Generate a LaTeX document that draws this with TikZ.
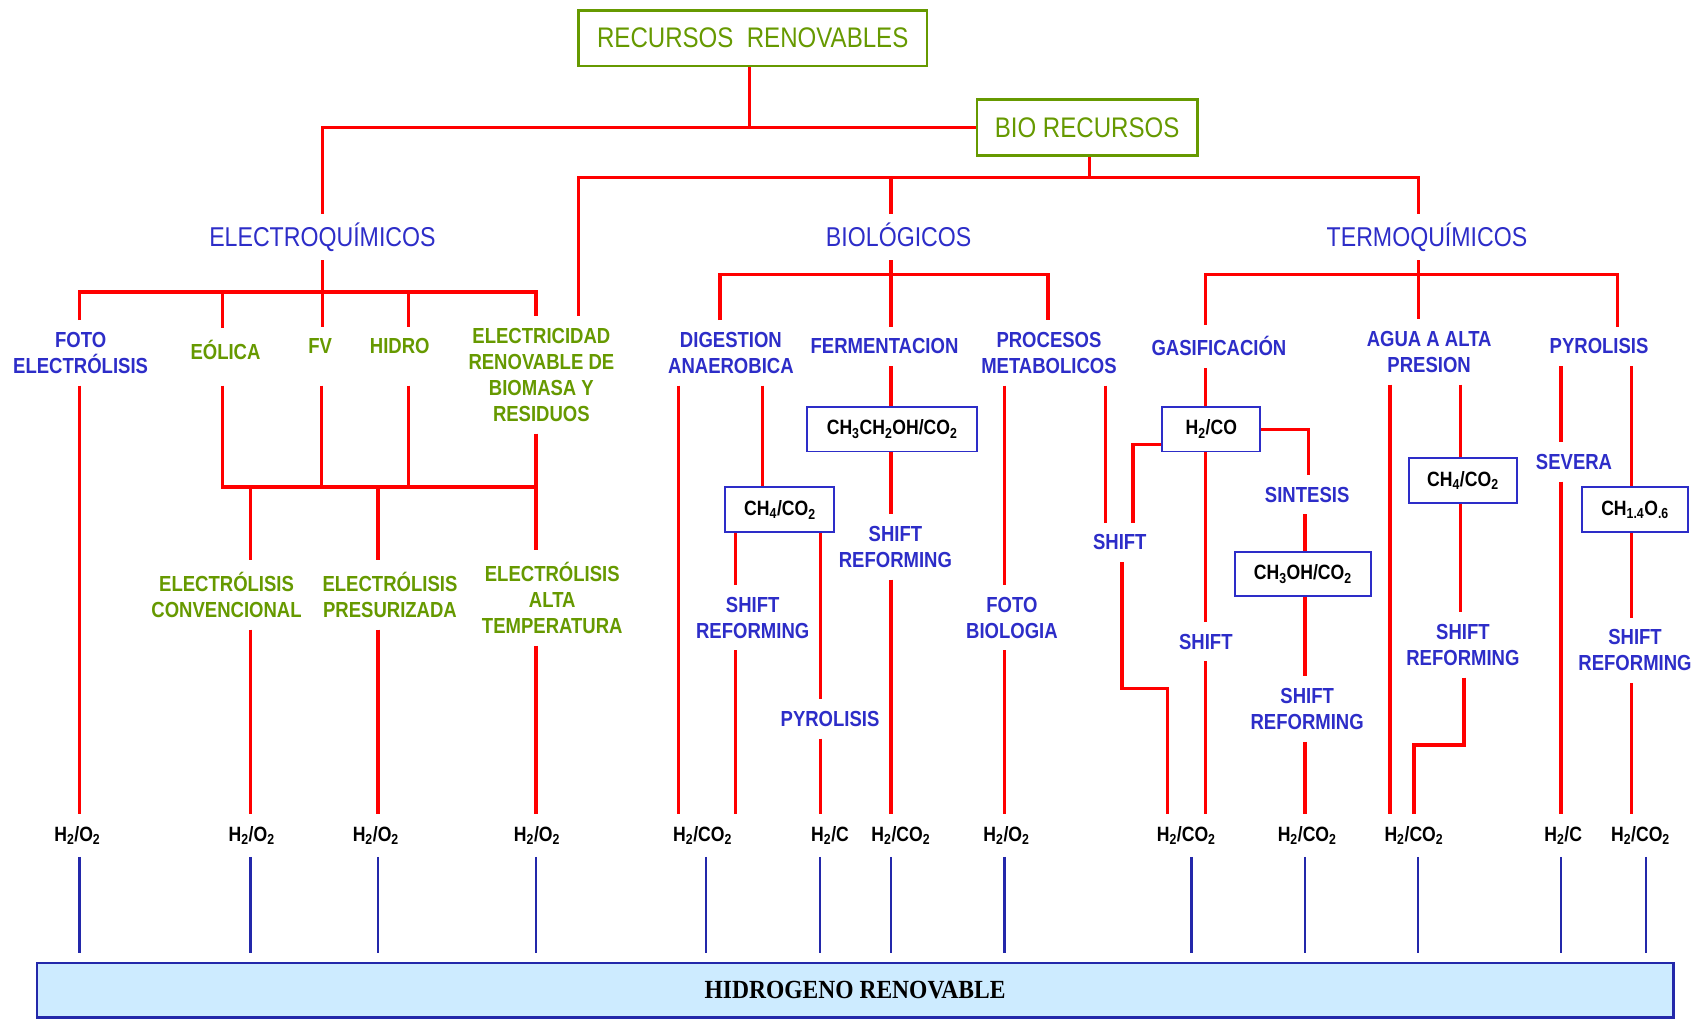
\documentclass[tikz,border=0pt]{standalone}
\usepackage{fontspec}
\setmainfont{Liberation Sans}[FakeStretch=0.85]
\newfontfamily\serifbar{Liberation Serif}[FakeStretch=0.9]
\definecolor{rojo}{RGB}{255,0,0}
\definecolor{azul}{RGB}{45,45,200}
\definecolor{verde}{RGB}{102,153,0}
\definecolor{marino}{RGB}{35,40,170}
\definecolor{celeste}{RGB}{205,235,255}
\newcommand{\prodHO}{H\textsubscript{2}/O\textsubscript{2}}
\newcommand{\prodHCO}{H\textsubscript{2}/CO\textsubscript{2}}
\newcommand{\prodHC}{H\textsubscript{2}/C}
\begin{document}
\begin{tikzpicture}[x=1pt, y=-1pt,
  raiz/.style={draw=verde, line width=2.5pt, text=verde, font=\fontsize{26}{30}\selectfont, minimum height=51pt},
  rama/.style={text=azul, font=\fontsize{25}{30}\selectfont, anchor=base, text height=22pt, text depth=5pt, inner sep=0pt, outer sep=8pt},
  etiq/.style={text=azul, font=\bfseries\fontsize{20}{24}\selectfont, align=center, inner sep=0pt, outer sep=11pt},
  etiqv/.style={etiq, text=verde},
  caja/.style={draw=azul, line width=1.8pt, font=\bfseries\fontsize{19}{22}\selectfont, minimum height=41pt, inner sep=0pt},
  prod/.style={font=\bfseries\fontsize{19}{22}\selectfont, inner sep=0pt, outer sep=11pt},
  roja/.style={draw=rojo, line width=3pt},
  azulinea/.style={draw=marino, line width=2.2pt, shorten >=8pt}]
\useasboundingbox (0,0) rectangle (1568,935);

\node[raiz, minimum width=320pt] (raiz) at (691,35) {RECURSOS\ \ RENOVABLES};
\node[raiz, minimum width=202pt] (bio) at (998,117) {BIO RECURSOS};
\node[rama] (electro) at (296,226) {ELECTROQUÍMICOS};
\node[rama] (biolog) at (825,226) {BIOLÓGICOS};
\node[rama] (termo) at (1310,226) {TERMOQUÍMICOS};

\node[etiq] (foto) at (74,324) {FOTO\\ELECTRÓLISIS};
\node[etiqv] (eolica) at (207,321) {EÓLICA};
\node[etiqv] (fv) at (294,318) {FV};
\node[etiqv] (hidro) at (367,318) {HIDRO};
\node[etiqv] (elecbm) at (497,344) {ELECTRICIDAD\\RENOVABLE DE\\BIOMASA Y\\RESIDUOS};
\node[etiqv] (conv) at (208,546) {ELECTRÓLISIS\\CONVENCIONAL};
\node[etiqv] (pres) at (358,546) {ELECTRÓLISIS\\PRESURIZADA};
\node[etiqv] (alta) at (507,549) {ELECTRÓLISIS\\ALTA\\TEMPERATURA};

\node[etiq] (dig) at (671,324) {DIGESTION\\ANAEROBICA};
\node[etiq] (ferm) at (812,318) {FERMENTACION};
\node[etiq] (proc) at (963,324) {PROCESOS\\METABOLICOS};
\node[caja, minimum width=100pt] (ch4a) at (716,468) {CH\textsubscript{4}/CO\textsubscript{2}};
\node[caja, minimum width=156pt] (etanol) at (819,394) {CH\textsubscript{3}CH\textsubscript{2}OH/CO\textsubscript{2}};
\node[etiq] (sra) at (691,567) {SHIFT\\REFORMING};
\node[etiq] (pyra) at (762,660) {PYROLISIS};
\node[etiq] (srb) at (822,502) {SHIFT\\REFORMING};
\node[etiq] (fotob) at (929,567) {FOTO\\BIOLOGIA};
\node[etiq] (shifta) at (1028,498) {SHIFT};

\node[etiq] (gas) at (1119,318) {GASIFICACIÓN};
\node[etiq] (agua) at (1312,323) {AGUA A ALTA\\PRESION};
\node[etiq] (pyrb) at (1468,318) {PYROLISIS};
\node[caja, minimum width=90pt] (syngas) at (1112,394) {H\textsubscript{2}/CO};
\node[etiq] (shiftb) at (1107,589) {SHIFT};
\node[etiq] (sint) at (1200,454) {SINTESIS};
\node[caja, minimum width=125pt] (metanol) at (1196,527) {CH\textsubscript{3}OH/CO\textsubscript{2}};
\node[etiq] (src) at (1200,651) {SHIFT\\REFORMING};
\node[caja, minimum width=99pt] (ch4b) at (1343,441) {CH\textsubscript{4}/CO\textsubscript{2}};
\node[etiq] (srd) at (1343,592) {SHIFT\\REFORMING};
\node[etiq] (severa) at (1445,424) {SEVERA};
\node[caja, minimum width=97pt] (bioil) at (1501,468) {CH\textsubscript{1.4}O\textsubscript{.6}};
\node[etiq] (sre) at (1501,597) {SHIFT\\REFORMING};

\foreach \n/\x/\txt in {1/71/\prodHO, 2/231/\prodHO, 3/345/\prodHO, 4/493/\prodHO, 5/645/\prodHCO, 6/762/\prodHC, 7/827/\prodHCO, 8/924/\prodHO, 9/1089/\prodHCO, 10/1200/\prodHCO, 11/1298/\prodHCO, 12/1435/\prodHC, 13/1506/\prodHCO}
  \node[prod] (p\n) at (\x,767) {\txt};

\node[draw=marino, line width=2.5pt, fill=celeste, minimum width=1502pt, minimum height=50pt, inner sep=0pt,
  font=\serifbar\bfseries\fontsize{24}{28}\selectfont] (barra) at (785,909) {HIDROGENO RENOVABLE};

\draw[roja] (electro.north) |- (bio.west);
\draw[roja] (688,0 |- raiz.south) -- (688,0 |- bio.west);
\draw[roja] (1000,0 |- bio.south) -- (1000,163);
\draw[roja] (531,0 |- elecbm.north) -- (531,163) -- (1302,163) -- (1302,0 |- termo.north);
\draw[roja] (818,163) -- (818,0 |- biolog.north);

\draw[roja] (296,0 |- electro.south) -- (296,0 |- fv.north);
\draw[roja] (73,0 |- foto.north) -- (73,268) -- (492,268) -- (492,0 |- elecbm.north);
\draw[roja] (204,268) -- (204,0 |- eolica.north);
\draw[roja] (375,268) -- (375,0 |- hidro.north);
\draw[roja] (73,0 |- foto.south) -- (73,0 |- p1.north);
\draw[roja] (204,0 |- foto.south) -- (204,447) -- (492,447);
\draw[roja] (295,0 |- foto.south) -- (295,447);
\draw[roja] (375,0 |- foto.south) -- (375,447);
\draw[roja] (492,0 |- elecbm.south) -- (492,0 |- alta.north);
\draw[roja] (230,447) -- (230,0 |- conv.north);
\draw[roja] (347,447) -- (347,0 |- pres.north);
\draw[roja] (230,0 |- conv.south) -- (230,0 |- p2.north);
\draw[roja] (347,0 |- pres.south) -- (347,0 |- p3.north);
\draw[roja] (492,0 |- alta.south) -- (492,0 |- p4.north);

\draw[roja] (818,0 |- biolog.south) -- (818,0 |- ferm.north);
\draw[roja] (661,0 |- dig.north) -- (661,252) -- (962,252) -- (962,0 |- proc.north);
\draw[roja] (623,0 |- dig.south) -- (623,0 |- p5.north);
\draw[roja] (700,0 |- dig.south) -- (700,0 |- ch4a.north);
\draw[roja] (675,0 |- ch4a.south) -- (675,0 |- sra.north);
\draw[roja] (675,0 |- sra.south) -- (675,0 |- p5.north);
\draw[roja] (753,0 |- ch4a.south) -- (753,0 |- pyra.north);
\draw[roja] (753,0 |- pyra.south) -- (753,0 |- p6.north);
\draw[roja] (818,0 |- ferm.south) -- (818,0 |- etanol.north);
\draw[roja] (818,0 |- etanol.south) -- (818,0 |- srb.north);
\draw[roja] (818,0 |- srb.south) -- (818,0 |- p7.north);
\draw[roja] (922,0 |- proc.south) -- (922,0 |- fotob.north);
\draw[roja] (922,0 |- fotob.south) -- (922,0 |- p8.north);
\draw[roja] (1015,0 |- proc.south) -- (1015,0 |- shifta.north);
\draw[roja] (syngas.west |- 0,408) -| (1040,0 |- shifta.north);
\draw[roja] (1030,0 |- shifta.south) -- (1030,632) -- (1072,632) -- (1072,0 |- p9.north);

\draw[roja] (1302,0 |- termo.south) -- (1302,0 |- agua.north);
\draw[roja] (1107,0 |- gas.north) -- (1107,252) -- (1485,252) -- (1485,0 |- pyrb.north);
\draw[roja] (1107,0 |- gas.south) -- (1107,0 |- syngas.north);
\draw[roja] (1107,0 |- syngas.south) -- (1107,0 |- shiftb.north);
\draw[roja] (1107,0 |- shiftb.south) -- (1107,0 |- p9.north);
\draw[roja] (syngas.east) -| (1201,0 |- sint.north);
\draw[roja] (1198,0 |- sint.south) -- (1198,0 |- metanol.north);
\draw[roja] (1198,0 |- metanol.south) -- (1198,0 |- src.north);
\draw[roja] (1198,0 |- src.south) -- (1198,0 |- p10.north);
\draw[roja] (1276,0 |- agua.south) -- (1276,0 |- p11.north);
\draw[roja] (1341,0 |- agua.south) -- (1341,0 |- ch4b.north);
\draw[roja] (1341,0 |- ch4b.south) -- (1341,0 |- srd.north);
\draw[roja] (1344,0 |- srd.south) -- (1344,684) -- (1298,684) -- (1298,0 |- p11.north);
\draw[roja] (1433,0 |- pyrb.south) -- (1433,0 |- severa.north);
\draw[roja] (1433,0 |- severa.south) -- (1433,0 |- p12.north);
\draw[roja] (1498,0 |- pyrb.south) -- (1498,0 |- bioil.north);
\draw[roja] (1498,0 |- bioil.south) -- (1498,0 |- sre.north);
\draw[roja] (1498,0 |- sre.south) -- (1498,0 |- p13.north);

\foreach \n/\x in {1/73, 2/230, 3/347, 4/492, 5/648, 6/753, 7/818, 8/922, 9/1094, 10/1198, 11/1302, 12/1433, 13/1511}
  \draw[azulinea] (\x,0 |- p\n.south) -- (\x,0 |- barra.north);
\end{tikzpicture}
\end{document}
